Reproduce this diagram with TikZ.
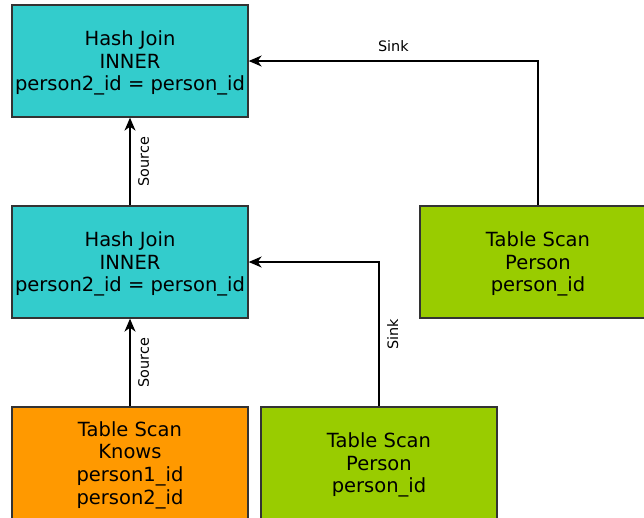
\documentclass[tikz,border=0pt]{standalone}
\usepackage{fontspec}
\setmainfont{DejaVu Sans}
\usetikzlibrary{arrows.meta}
\definecolor{joincyan}{HTML}{33CCCC}
\definecolor{scangreen}{HTML}{99CC00}
\definecolor{scanorange}{HTML}{FF9900}
\definecolor{edgegray}{HTML}{333333}
% centred stack of text lines; the rule pads the top so the text sits a little low
\newcommand{\oplines}[1]{\begin{tabular}{@{}c@{}}\rule{0pt}{21pt}#1\end{tabular}}
\tikzset{
  opbox/.style={draw=edgegray, line width=1.3pt, minimum width=236pt, minimum height=112pt,
    inner sep=0pt, font=\fontsize{19.5}{22.7}\selectfont},
  joinbox/.style={opbox, fill=joincyan},
  personbox/.style={opbox, fill=scangreen},
  knowsbox/.style={opbox, fill=scanorange},
  flow/.style={line width=1.3pt, -{Stealth[length=13pt,width=11pt,inset=4pt]}},
  flowlabel/.style={font=\fontsize{14.4}{16}\selectfont, inner sep=7.5pt},
}
\begin{document}
\begin{tikzpicture}[x=1pt,y=-1pt]
  \useasboundingbox (0,0) rectangle (644,517);
  \clip (0,0) rectangle (644,517);

  % operators
  \node[joinbox] (hj1) at (130,61) {\oplines{Hash Join\\INNER\\person2\_id = person\_id}};
  \node[joinbox] (hj2) at (130,262) {\oplines{Hash Join\\INNER\\person2\_id = person\_id}};
  \node[personbox] (pr) at (538,262) {\oplines{Table Scan\\Person\\person\_id}};
  \node[knowsbox] (kn) at (130,463) {\oplines{Table Scan\\Knows\\person1\_id\\person2\_id}};
  \node[personbox] (pb) at (379,463) {\oplines{Table Scan\\Person\\person\_id}};

  % data flow
  \draw[flow] (kn.north) -- node[flowlabel, midway, anchor=north, rotate=90] {Source} (hj2.south);
  \draw[flow] (hj2.north) -- node[flowlabel, midway, anchor=north, rotate=90] {Source} (hj1.south);
  \draw[flow] (pb.north) |- node[flowlabel, pos=0.25, anchor=north, rotate=90] {Sink} (hj2.east);
  \draw[flow] (pr.north) |- node[flowlabel, pos=0.75, anchor=south, yshift=1.5pt] {Sink} (hj1.east);
\end{tikzpicture}
\end{document}
